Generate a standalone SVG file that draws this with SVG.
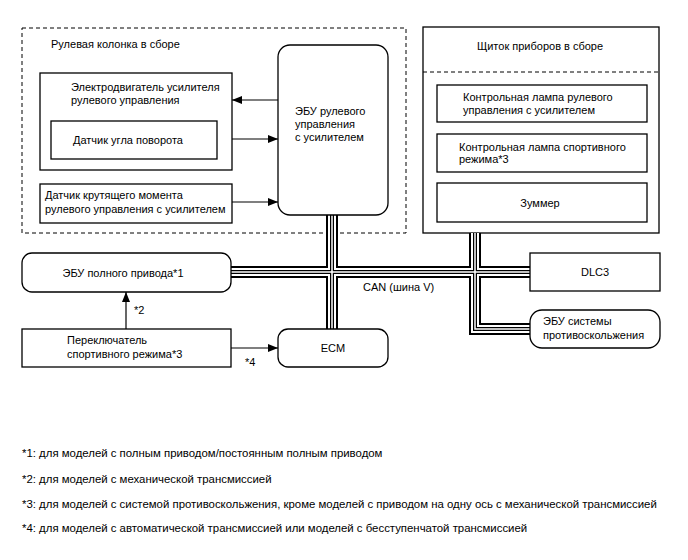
<svg xmlns="http://www.w3.org/2000/svg" width="688" height="560" viewBox="0 0 688 560">
<defs>
<marker id="arr" viewBox="0 0 10 8" refX="10" refY="4" markerWidth="10" markerHeight="8" markerUnits="userSpaceOnUse" orient="auto">
<path d="M0,0 L10,4 L0,8 z" fill="#000"/>
</marker>
<style>
text{font-family:"Liberation Sans",Arial,sans-serif;font-size:11px;fill:#000}
.note{font-size:11.4px}
.box{fill:#fff;stroke:#000;stroke-width:1.3}
.dash{fill:none;stroke:#000;stroke-width:1;stroke-dasharray:4,3}
.arrow{fill:none;stroke:#000;stroke-width:1.2;marker-end:url(#arr)}
.b1{fill:none;stroke:#000;stroke-width:12}
.b2{fill:none;stroke:#fff;stroke-width:8}
.b3{fill:none;stroke:#000;stroke-width:4}
.b4{fill:none;stroke:#fff;stroke-width:1.5}
.mid{text-anchor:middle}
</style>
</defs>
<rect width="688" height="560" fill="#fff"/>
<g id="steering-column">
<rect class="dash" x="22" y="28" width="384" height="205"/>
<text x="51" y="48">Рулевая колонка в сборе</text>
</g>
<g id="combination-meter">
<rect class="box" x="423" y="27" width="236" height="206"/>
<line class="dash" x1="423" y1="72" x2="659" y2="72"/>
<text class="mid" x="540" y="50">Щиток приборов в сборе</text>
</g>
<g id="connectors">
<g id="can-bus">
<path class="b1" d="M231,272 H530 M332,215 V329 M475,233 V329 H530"/>
<path class="b2" d="M231,272 H530 M332,215 V329 M475,233 V329 H530"/>
<path class="b3" d="M231,272 H530 M332,215 V329 M475,233 V329 H530"/>
<path class="b4" d="M231,272 H530 M332,215 V329 M475,233 V329 H530"/>
</g>
<line class="arrow" x1="278" y1="100" x2="232" y2="100"/>
<line class="arrow" x1="217" y1="139" x2="278" y2="139"/>
<line class="arrow" x1="232" y1="202" x2="278" y2="202"/>
<line class="arrow" x1="126" y1="329" x2="126" y2="292"/>
<line class="arrow" x1="231" y1="348" x2="278" y2="348"/>
<text x="134" y="314">*2</text>
<text x="245" y="366">*4</text>
<text x="363" y="291">CAN (шина V)</text>
</g>
<g id="eps-ecu">
<rect class="box" x="278" y="45" width="110" height="170" rx="12"/>
<text x="295" y="115">ЭБУ рулевого</text>
<text x="295" y="128">управления</text>
<text x="295" y="141">с усилителем</text>
</g>
<g id="eps-motor">
<rect class="box" x="40" y="73" width="192" height="97"/>
<text x="71" y="91">Электродвигатель усилителя</text>
<text x="71" y="104">рулевого управления</text>
</g>
<g id="steering-angle-sensor">
<rect class="box" x="51" y="121" width="166" height="38"/>
<text x="73" y="144">Датчик угла поворота</text>
</g>
<g id="torque-sensor">
<rect class="box" x="40" y="184" width="192" height="39"/>
<text x="45" y="199">Датчик крутящего момента</text>
<text x="45" y="213">рулевого управления с усилителем</text>
</g>
<g id="eps-lamp">
<rect class="box" x="437" y="85" width="210" height="37"/>
<text x="463" y="101">Контрольная лампа рулевого</text>
<text x="463" y="114">управления с усилителем</text>
</g>
<g id="sport-lamp">
<rect class="box" x="437" y="134" width="210" height="38"/>
<text x="459" y="151">Контрольная лампа спортивного</text>
<text x="459" y="163">режима*3</text>
</g>
<g id="buzzer">
<rect class="box" x="437" y="183" width="210" height="39"/>
<text class="mid" x="540" y="207">Зуммер</text>
</g>
<g id="awd-ecu">
<rect class="box" x="22" y="253" width="209" height="39" rx="10"/>
<text class="mid" x="123" y="277">ЭБУ полного привода*1</text>
</g>
<g id="sport-switch">
<rect class="box" x="22" y="329" width="209" height="38"/>
<text x="67" y="344">Переключатель</text>
<text x="67" y="358">спортивного режима*3</text>
</g>
<g id="ecm">
<rect class="box" x="278" y="329" width="110" height="38" rx="10"/>
<text class="mid" x="333" y="352">ECM</text>
</g>
<g id="dlc3">
<rect class="box" x="530" y="253" width="130" height="38"/>
<text class="mid" x="595" y="276">DLC3</text>
</g>
<g id="skid-ecu">
<rect class="box" x="530" y="310" width="130" height="38" rx="12"/>
<text x="543" y="325">ЭБУ системы</text>
<text x="543" y="339">противоскольжения</text>
</g>
<g id="notes">
<text class="note" x="22" y="457">*1: для моделей с полным приводом/постоянным полным приводом</text>
<text class="note" x="22" y="483">*2: для моделей с механической трансмиссией</text>
<text class="note" x="22" y="508">*3: для моделей с системой противоскольжения, кроме моделей с приводом на одну ось с механической трансмиссией</text>
<text class="note" x="22" y="532">*4: для моделей с автоматической трансмиссией или моделей с бесступенчатой трансмиссией</text>
</g>
</svg>
